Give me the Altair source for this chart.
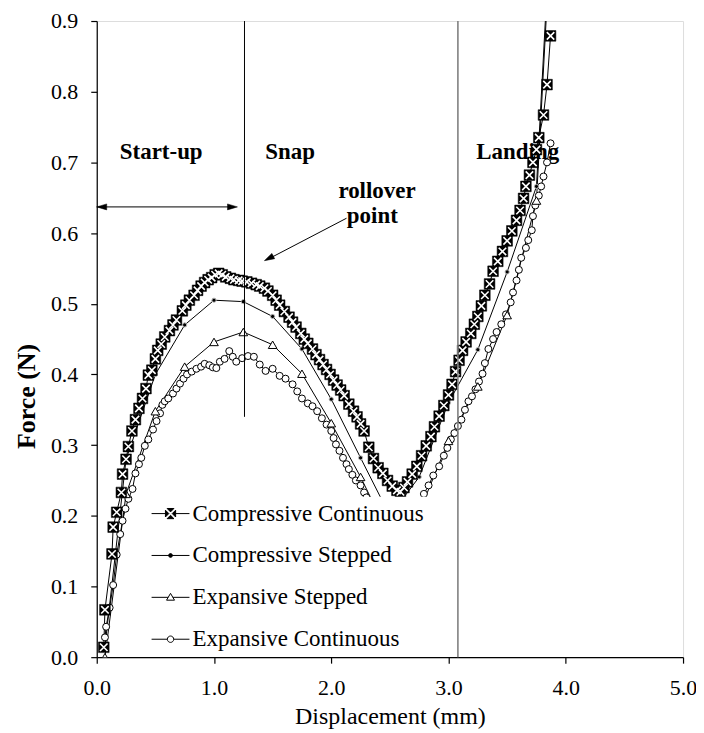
import altair as alt
import pandas as pd

# ---------------- data ----------------
series_names = ["Compressive Continuous", "Compressive Stepped",
                "Expansive Stepped", "Expansive Continuous"]

cc_x = [0.06, 0.07, 0.13, 0.14, 0.17, 0.21, 0.22, 0.25, 0.27, 0.30, 0.33, 0.36, 0.39,
        0.42, 0.44, 0.47, 0.50, 0.52, 0.55, 0.58, 0.62, 0.65, 0.68, 0.73, 0.76, 0.79,
        0.83, 0.86, 0.89, 0.92, 0.95, 0.98, 1.01, 1.04, 1.07, 1.10, 1.14, 1.17, 1.21,
        1.24, 1.28, 1.32, 1.36, 1.39, 1.43, 1.46, 1.50, 1.53, 1.56, 1.60, 1.64, 1.67,
        1.70, 1.74, 1.77, 1.80, 1.84, 1.87, 1.90, 1.93, 1.96, 1.99, 2.02, 2.05, 2.08,
        2.11, 2.15, 2.19, 2.22, 2.25, 2.28, 2.32, 2.36, 2.40, 2.44, 2.48, 2.52, 2.56,
        2.59, 2.62, 2.65, 2.69, 2.73, 2.77, 2.81, 2.85, 2.88, 2.92, 2.96, 3.00, 3.03,
        3.06, 3.09, 3.12, 3.15, 3.19, 3.22, 3.25, 3.28, 3.31, 3.35, 3.38, 3.42, 3.46,
        3.50, 3.54, 3.58, 3.61, 3.64, 3.66, 3.69, 3.72, 3.75, 3.77, 3.81, 3.84, 3.87]
cc_y = [0.014, 0.067, 0.146, 0.184, 0.205, 0.233, 0.259, 0.280, 0.298, 0.320, 0.336, 0.352, 0.366,
        0.380, 0.399, 0.406, 0.422, 0.434, 0.443, 0.453, 0.462, 0.470, 0.477, 0.490, 0.498, 0.505,
        0.512, 0.519, 0.525, 0.530, 0.534, 0.537, 0.541, 0.543, 0.541, 0.538, 0.536, 0.534, 0.533,
        0.532, 0.531, 0.529, 0.527, 0.525, 0.522, 0.518, 0.512, 0.505, 0.498, 0.489, 0.481, 0.474,
        0.467, 0.458, 0.450, 0.444, 0.436, 0.428, 0.421, 0.414, 0.407, 0.400, 0.392, 0.385, 0.378,
        0.370, 0.358, 0.348, 0.340, 0.330, 0.320, 0.297, 0.281, 0.268, 0.260, 0.250, 0.242, 0.236,
        0.234, 0.240, 0.248, 0.259, 0.270, 0.285, 0.299, 0.312, 0.326, 0.341, 0.356, 0.371, 0.386,
        0.404, 0.420, 0.434, 0.446, 0.458, 0.471, 0.482, 0.497, 0.512, 0.528, 0.546, 0.560, 0.574,
        0.589, 0.603, 0.618, 0.632, 0.649, 0.666, 0.682, 0.700, 0.718, 0.735, 0.767, 0.810, 0.879]

cs_x = [0.07, 0.25, 0.50, 0.75, 1.00, 1.25, 1.50, 1.75, 2.00, 2.25, 2.50, 2.75,
        3.00, 3.25, 3.50, 3.75, 4.00]
cs_y = [0.015, 0.280, 0.400, 0.470, 0.505, 0.503, 0.482, 0.436, 0.365, 0.282, 0.200, 0.255,
        0.360, 0.435, 0.545, 0.666, 1.440]

es_x = [0.07, 0.25, 0.50, 0.75, 1.00, 1.25, 1.50, 1.75, 2.00, 2.25, 2.50, 2.75,
        3.00, 3.25, 3.50, 3.75, 4.00]
es_y = [0.000, 0.231, 0.348, 0.411, 0.446, 0.460, 0.442, 0.401, 0.331, 0.255, 0.170, 0.205,
        0.306, 0.383, 0.484, 0.646, 1.420]

ec_x = [0.07, 0.08, 0.11, 0.14, 0.17, 0.20, 0.22, 0.245, 0.27, 0.305, 0.33, 0.36, 0.38,
        0.41, 0.44, 0.48, 0.51, 0.54, 0.56, 0.58, 0.61, 0.65, 0.68, 0.71, 0.74, 0.77,
        0.81, 0.85, 0.89, 0.92, 0.96, 0.99, 1.02, 1.05, 1.09, 1.13, 1.16, 1.19, 1.24,
        1.29, 1.34, 1.39, 1.44, 1.50, 1.56, 1.61, 1.67, 1.71, 1.75, 1.80, 1.84, 1.88,
        1.92, 1.96, 2.00, 2.02, 2.04, 2.07, 2.10, 2.13, 2.15, 2.18, 2.21, 2.25, 2.28,
        2.30, 2.35, 2.40, 2.45, 2.50, 2.55, 2.60, 2.65, 2.70, 2.75, 2.79, 2.83, 2.87,
        2.92, 2.96, 2.99, 3.02, 3.05, 3.08, 3.11, 3.14, 3.17, 3.20, 3.23, 3.26, 3.29,
        3.31, 3.34, 3.38, 3.41, 3.45, 3.49, 3.53, 3.55, 3.58, 3.60, 3.62, 3.66, 3.68,
        3.71, 3.72, 3.74, 3.77, 3.79, 3.81, 3.84, 3.87]
ec_y = [0.028, 0.043, 0.070, 0.102, 0.145, 0.174, 0.193, 0.210, 0.224, 0.238, 0.260, 0.273, 0.282,
        0.299, 0.308, 0.322, 0.334, 0.345, 0.357, 0.362, 0.366, 0.373, 0.380, 0.387, 0.394, 0.400,
        0.404, 0.408, 0.411, 0.415, 0.413, 0.410, 0.409, 0.418, 0.422, 0.433, 0.425, 0.418, 0.423,
        0.426, 0.425, 0.414, 0.405, 0.408, 0.398, 0.394, 0.386, 0.376, 0.366, 0.359, 0.355, 0.348,
        0.338, 0.329, 0.320, 0.310, 0.301, 0.292, 0.282, 0.273, 0.266, 0.258, 0.250, 0.243, 0.233,
        0.226, 0.212, 0.198, 0.186, 0.176, 0.169, 0.166, 0.172, 0.186, 0.210, 0.231, 0.243, 0.257,
        0.270, 0.285, 0.296, 0.308, 0.317, 0.327, 0.336, 0.350, 0.362, 0.369, 0.379, 0.390, 0.401,
        0.416, 0.436, 0.450, 0.460, 0.471, 0.485, 0.502, 0.516, 0.533, 0.548, 0.565, 0.579, 0.590,
        0.604, 0.624, 0.639, 0.653, 0.666, 0.680, 0.700, 0.727]

# annotations
ann_text = ["Start-up", "Snap", "Landing", "rollover", "point"]
ann_x = [0.55, 1.65, 3.59, 2.39, 2.35]
ann_y = [0.715, 0.715, 0.715, 0.659, 0.624]

# region boundary lines
div1_x, div1_y0, div1_y1 = [1.26], [0.34], [0.90]
div2_x, div2_y0, div2_y1 = [3.08], [0.00], [0.90]

# arrows (shafts and heads)
shaft_x0 = [0.00, 2.13]
shaft_x1 = [1.15, 1.46]
shaft_y0 = [0.637, 0.621]
shaft_y1 = [0.637, 0.563]
head_x = [0.00, 1.20, 1.43]
head_y = [0.637, 0.637, 0.561]
head_dir = [270, 90, 242.5]

# ---------------- build tables ----------------
frames = []
for name, xs, ys in zip(series_names, [cc_x, cs_x, es_x, ec_x], [cc_y, cs_y, es_y, ec_y]):
    frames.append(pd.DataFrame({"series": name, "x": xs, "y": ys, "order": list(range(len(xs)))}))
df = pd.concat(frames, ignore_index=True)

ann_df = pd.DataFrame({"x": ann_x, "y": ann_y, "text": ann_text})
div1_df = pd.DataFrame({"x": div1_x, "y": div1_y0, "y2": div1_y1})
div2_df = pd.DataFrame({"x": div2_x, "y": div2_y0, "y2": div2_y1})
shaft_df = pd.DataFrame({"x": shaft_x0, "x2": shaft_x1, "y": shaft_y0, "y2": shaft_y1})
head_df = pd.DataFrame({"x": head_x, "y": head_y, "angle": head_dir})

SERIF = "Liberation Serif"
xscale = alt.Scale(domain=[0, 5], nice=False, zero=False)
yscale = alt.Scale(domain=[0, 0.9], nice=False, zero=False)

x_axis = alt.Axis(values=[0, 1, 2, 3, 4, 5], format=".1f", title="Displacement (mm)",
                  grid=False, domainColor="black", domainWidth=1.2, tickColor="black",
                  tickSize=6, tickWidth=1.2, labelFont=SERIF, labelFontSize=22,
                  labelFontWeight="normal", labelColor="black", labelPadding=14, labelFlush=False,
                  titleFont=SERIF, titleFontSize=24, titleFontWeight="normal",
                  titleColor="black", titleY=60, titleBaseline="middle")
y_axis = alt.Axis(values=[0, 0.1, 0.2, 0.3, 0.4, 0.5, 0.6, 0.7, 0.8, 0.9], format=".1f",
                  title="Force (N)", grid=False, domainColor="black", domainWidth=1.2,
                  tickColor="black", tickSize=6, tickWidth=1.2, labelFont=SERIF,
                  labelFontSize=22, labelFontWeight="normal", labelColor="black",
                  labelPadding=13, labelFlush=False,
                  titleFont=SERIF, titleFontSize=26, titleFontWeight="bold",
                  titleColor="black", titleAngle=270, titleX=-70, titleY=376,
                  titleAlign="center", titleBaseline="middle")

X = alt.X("x:Q", scale=xscale, axis=x_axis)
Y = alt.Y("y:Q", scale=yscale, axis=y_axis)

# annotations (under the data)
ann = alt.Chart(ann_df).mark_text(font=SERIF, fontSize=23, fontWeight="bold", color="black",
                                  align="center", baseline="middle").encode(x=X, y=Y, text="text:N")

lines = alt.Chart(df).mark_line(color="black", strokeWidth=1, clip=True).encode(
    x=X, y=Y, detail="series:N", order="order:Q")


def sub(name):
    return alt.Chart(df).transform_filter(alt.datum.series == name)


ec_pts = sub(series_names[3]).mark_point(shape="circle", filled=True, fill="white", stroke="black",
                                         strokeWidth=1, size=49, opacity=1, clip=True).encode(x=X, y=Y)
es_pts = sub(series_names[2]).mark_point(shape="triangle-up", filled=True, fill="white", stroke="black",
                                         strokeWidth=1, size=75, opacity=1, clip=True).encode(x=X, y=Y)
cs_pts = sub(series_names[1]).mark_point(shape="circle", filled=True, fill="black", stroke="#bdbdbd",
                                         strokeWidth=1, size=18, opacity=1, clip=True).encode(x=X, y=Y)
cc_sq = sub(series_names[0]).mark_point(shape="square", filled=True, fill="black", stroke="black",
                                        strokeWidth=0.5, size=115, opacity=1, clip=True).encode(x=X, y=Y)
cc_cross = sub(series_names[0]).mark_point(shape="M-0.7,-0.7L0.7,0.7M-0.7,0.7L0.7,-0.7", filled=False,
                                           stroke="white", strokeWidth=1.6, size=115, opacity=1,
                                           clip=True).encode(x=X, y=Y)

div1 = alt.Chart(div1_df).mark_rule(color="black", strokeWidth=1).encode(x=X, y=Y, y2="y2:Q")
div2 = alt.Chart(div2_df).mark_rule(color="#808080", strokeWidth=1.6).encode(x=X, y=Y, y2="y2:Q")

shafts = alt.Chart(shaft_df).mark_rule(color="black", strokeWidth=1).encode(x=X, x2="x2:Q", y=Y, y2="y2:Q")
heads = alt.Chart(head_df).mark_point(shape="M0,0L-0.6,2L0.6,2Z", filled=True, fill="black",
                                      stroke="black", strokeWidth=0.5, size=100, opacity=1).encode(
    x=X, y=Y, angle=alt.Angle("angle:Q", scale=None))

# legend (drawn by the library, on a white box over the plot)
legend_paths = [
    "M0,2.083M-1.583,0H-0.425M0.425,0H1.583"
    "M-0.283,-0.425L0.283,-0.425L0,-0.142Z"
    "M-0.283,0.425L0.283,0.425L0,0.142Z"
    "M-0.425,-0.283L-0.425,0.283L-0.142,0Z"
    "M0.425,-0.283L0.425,0.283L0.142,0Z",
    "M0,2.083M-1.583,0H1.583M-0.158,0A0.158,0.158,0,1,0,0.158,0A0.158,0.158,0,1,0,-0.158,0Z",
    "M0,2.083M-1.583,0H-0.195M0.195,0H1.583M0,-0.333L0.333,0.237L-0.333,0.237Z",
    "M21.3,0M-1.583,0H-0.267M0.267,0H1.583M-0.267,0A0.267,0.267,0,1,0,0.267,0A0.267,0.267,0,1,0,-0.267,0Z",
]
leg = alt.Legend(orient="none", legendX=57, legendY=477, direction="vertical", title=None,
                 fillColor="white", padding=4.5,
                 labelFont=SERIF, labelFontSize=23,
                 labelColor="black", labelLimit=500, labelOffset=9.5, symbolSize=576,
                 symbolStrokeWidth=1)
legend_layer = alt.Chart(df).transform_filter("false").mark_point(
    filled=True, strokeWidth=1, opacity=1).encode(
    x=X, y=Y,
    shape=alt.Shape("series:N", scale=alt.Scale(domain=series_names, range=legend_paths), legend=leg),
    fill=alt.Fill("series:N", scale=alt.Scale(domain=series_names,
                                              range=["black", "black", "white", "white"]), legend=leg),
    stroke=alt.Stroke("series:N", scale=alt.Scale(domain=series_names,
                                                  range=["black", "black", "black", "black"]), legend=leg))

chart = alt.layer(ann, lines, ec_pts, es_pts, cs_pts, cc_sq, cc_cross, div1, div2, shafts, heads,
                  legend_layer).properties(
    width=588, height=638,
    padding={"left": 89, "top": 12, "right": 13, "bottom": 75},
    autosize=alt.AutoSizeParams(type="none"),
    background="white",
).configure_view(stroke="#a6a6a6", strokeWidth=1).configure_axis(
    labelFont=SERIF, titleFont=SERIF, labelFontWeight="normal").configure(font=SERIF)

chart.save("out.html", embed_options={"renderer": "svg", "actions": False})
